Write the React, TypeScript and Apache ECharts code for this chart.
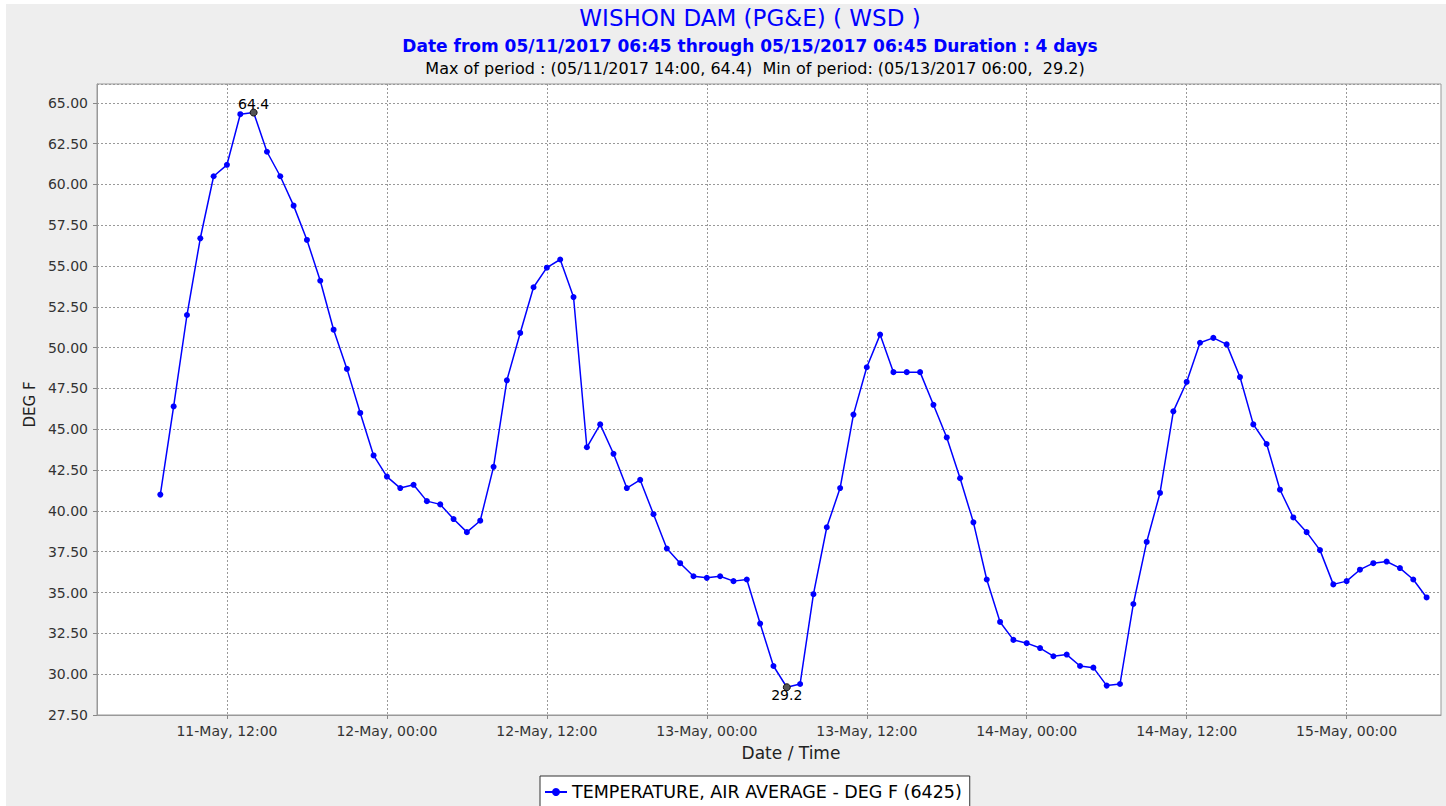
import React, { useEffect, useRef } from "react";
import * as echarts from "echarts";

// Hourly readings, 05/11/2017 07:00 through 05/15/2017 06:00 (DEG F)
const may11 = [41.0, 46.4, 52.0, 56.7, 60.5, 61.2, 64.3, 64.4, 62.0, 60.5, 58.7, 56.6, 54.1, 51.1, 48.7, 46.0, 43.4];
const may12 = [42.1, 41.4, 41.6, 40.6, 40.4, 39.5, 38.7, 39.4, 42.7, 48.0, 50.9, 53.7, 54.9, 55.4, 53.1, 43.9, 45.3, 43.5, 41.4, 41.9, 39.8, 37.7, 36.8, 36.0];
const may13 = [35.9, 36.0, 35.7, 35.8, 33.1, 30.5, 29.2, 29.4, 34.9, 39.0, 41.4, 45.9, 48.8, 50.8, 48.5, 48.5, 48.5, 46.5, 44.5, 42.0, 39.3, 35.8, 33.2, 32.1];
const may14 = [31.9, 31.6, 31.1, 31.2, 30.5, 30.4, 29.3, 29.4, 34.3, 38.1, 41.1, 46.1, 47.9, 50.3, 50.6, 50.2, 48.2, 45.3, 44.1, 41.3, 39.6, 38.7, 37.6, 35.5];
const may15 = [35.7, 36.4, 36.8, 36.9, 36.5, 35.8, 34.7];

// x axis is measured in hours since 11-May-2017 00:00
const firstReadingHour = 7; // 05/11/2017 07:00, hourly readings
const axisStartHour = 2.25;
const axisEndHour = 103.08;
const xTickHours = [12, 24, 36, 48, 60, 72, 84, 96];
const baseDay = 11;

const titleText = "WISHON DAM (PG&E) ( WSD )";
const subtitleText = "Date from 05/11/2017 06:45 through 05/15/2017 06:45 Duration : 4 days";
const statsText = "Max of period : (05/11/2017 14:00, 64.4)  Min of period: (05/13/2017 06:00,  29.2)";
const seriesName = "TEMPERATURE, AIR AVERAGE - DEG F (6425)";
const yName = "DEG F";
const xName = "Date / Time";
const monthName = "May";

const values = [...may11, ...may12, ...may13, ...may14, ...may15];

const pad = (n: number) => (n < 10 ? "0" + n : "" + n);

export default function App() {
  const ref = useRef<HTMLDivElement>(null);
  useEffect(() => {
    document.body.style.margin = "0";
    const chart = echarts.init(ref.current!, undefined, { renderer: "svg" });
    const data = values.map((v, i) => [firstReadingHour + i, v]);
    const font = "DejaVu Sans";
    chart.setOption({
      animation: false,
      backgroundColor: "#eeeeee",
      graphic: [
        {
          type: "text",
          x: 744,
          y: 14,
          style: {
            text: titleText,
            font: "23px 'DejaVu Sans'",
            fill: "#0000ff",
            textAlign: "center",
            textVerticalAlign: "middle",
          },
        },
        {
          type: "text",
          x: 744,
          y: 42,
          style: {
            text: subtitleText,
            font: "bold 17px 'DejaVu Sans'",
            fill: "#0000ff",
            textAlign: "center",
            textVerticalAlign: "middle",
          },
        },
        {
          type: "text",
          x: 749,
          y: 64,
          style: {
            text: statsText,
            font: "16px 'DejaVu Sans'",
            fill: "#000000",
            textAlign: "center",
            textVerticalAlign: "middle",
          },
        },
      ],
      legend: {
        left: 534,
        top: 772,
        data: [seriesName],
        backgroundColor: "#ffffff",
        borderColor: "#333333",
        borderWidth: 1,
        padding: [7, 8, 10, 4],
        itemWidth: 22,
        itemHeight: 10,
        itemGap: 4,
        textStyle: { fontFamily: font, fontSize: 17.5, color: "#000" },
      },
      grid: {
        left: 91,
        right: 5,
        top: 80,
        bottom: 91,
        show: true,
        backgroundColor: "#ffffff",
        borderColor: "#999999",
        borderWidth: 1,
      },
      xAxis: {
        type: "value",
        min: axisStartHour,
        max: axisEndHour,
        name: xName,
        nameLocation: "middle",
        nameGap: 29,
        nameTextStyle: { fontFamily: font, fontSize: 17, color: "#222", padding: [0, 0, 0, 44] },
        axisLine: { show: true, lineStyle: { color: "#999" } },
        axisTick: {
          show: true,
          length: 4,
          customValues: xTickHours,
          lineStyle: { color: "#888" },
        },
        axisLabel: {
          fontFamily: font,
          fontSize: 14,
          color: "#333",
          margin: 9,
          hideOverlap: false,
          customValues: xTickHours,
          formatter: (h: number) => {
            const day = baseDay + Math.floor(h / 24);
            const hour = Math.round(h % 24);
            return `${pad(day)}-${monthName}, ${pad(hour)}:00`;
          },
        },
        splitLine: {
          show: true,
          lineStyle: { color: "#999999", type: [2, 2], width: 1 },
        },
      },
      yAxis: {
        type: "value",
        min: 27.5,
        max: 66.15,
        interval: 2.5,
        name: yName,
        nameLocation: "middle",
        nameGap: 56,
        nameRotate: 90,
        nameTextStyle: { fontFamily: font, fontSize: 15, color: "#222", padding: [0, 10, 0, 0] },
        axisLine: { show: true, lineStyle: { color: "#999" } },
        axisTick: { show: true, length: 4, lineStyle: { color: "#888" } },
        axisLabel: {
          fontFamily: font,
          fontSize: 14,
          color: "#333",
          margin: 9,
          showMaxLabel: false,
          formatter: (v: number) => v.toFixed(2),
        },
        splitLine: {
          show: true,
          lineStyle: { color: "#999999", type: [2, 2], width: 1 },
        },
      },
      series: [
        {
          name: seriesName,
          type: "line",
          data,
          color: "#0000ff",
          symbol: "circle",
          symbolSize: 6,
          showAllSymbol: true,
          lineStyle: { color: "#0000ff", width: 1.5 },
          itemStyle: { color: "#0000ff" },
          markPoint: {
            symbol: "circle",
            symbolSize: 7,
            itemStyle: { color: "#555555", borderColor: "#111111", borderWidth: 1 },
            label: { show: true, color: "#000", fontFamily: font, fontSize: 14, formatter: "{c}" },
            data: [
              { type: "max", label: { position: "top", distance: -2 } },
              { type: "min", label: { position: "bottom", distance: -3 } },
            ],
          },
        },
      ],
    });
    return () => chart.dispose();
  }, []);
  return (
    <div style={{ width: 1446, height: 806, background: "#ffffff", position: "relative", overflow: "hidden" }}>
      <div ref={ref} style={{ position: "absolute", left: 6, top: 4, width: 1440, height: 802 }} />
    </div>
  );
}
